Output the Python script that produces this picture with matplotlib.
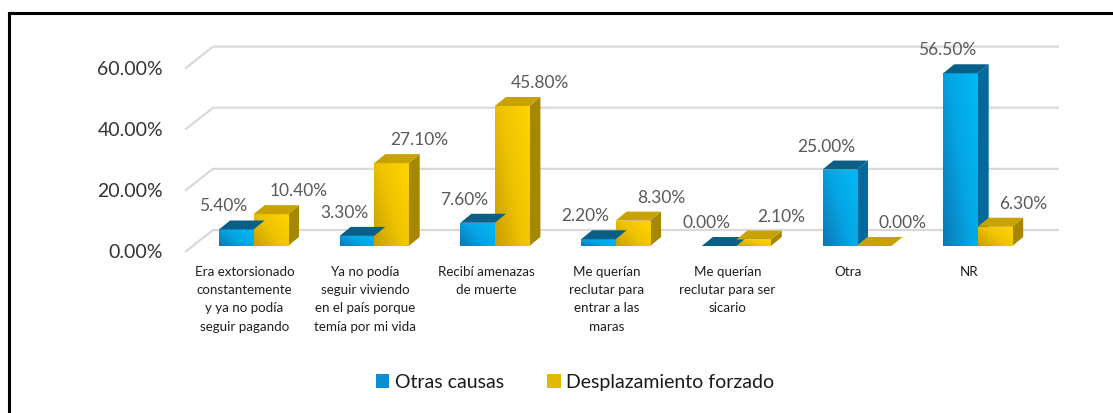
import matplotlib
matplotlib.use('Agg')
import matplotlib.pyplot as plt
import numpy as np
from matplotlib.patches import Polygon, Patch
from matplotlib.lines import Line2D
from matplotlib.colors import LinearSegmentedColormap

plt.rcParams['font.family'] = ['Lato', 'DejaVu Sans']

# data
categories = [
    'Era extorsionado\nconstantemente\ny ya no podía\nseguir pagando',
    'Ya no podía\nseguir viviendo\nen el país porque\ntemía por mi vida',
    'Recibí amenazas\nde muerte',
    'Me querían\nreclutar para\nentrar a las\nmaras',
    'Me querían\nreclutar para ser\nsicario',
    'Otra',
    'NR',
]
otras_causas = [5.4, 3.3, 7.6, 2.2, 0.0, 25.0, 56.5]
desplazamiento = [10.4, 27.1, 45.8, 8.3, 2.1, 0.0, 6.3]
series_names = ['Otras causas', 'Desplazamiento forzado']
yticks = [0, 20, 40, 60]

# pixel scale of the original picture
PX_CAT = 120.7      # px per category
PX_PCT = 3.057      # px per percent
X0_PX, Y0_PX = 253.5, 247   # front centre of first group, bar baseline

W, H = 1113, 414
fig = plt.figure(figsize=(W / 100, H / 100), dpi=100)

left_px, right_px, top_px, bot_px = 150, 1100, 20, 262
ax = fig.add_axes([left_px / W, 1 - bot_px / H, (right_px - left_px) / W, (bot_px - top_px) / H])
ax.set_axis_off()

def dx(px):
    return px / PX_CAT

def dy(px):
    return px / PX_PCT

bw = dx(34.5)          # bar width
ddx, ddy = dx(11), dy(9)  # bar depth
x = np.arange(len(categories))

# walls / gridlines
for v in yticks:
    yb = v + dy(Y0_PX - 231)
    yf = v - dy(253 - Y0_PX)
    xl_f, xl_b, xr = dx(185 - X0_PX), dx(213 - X0_PX), dx(1059 - X0_PX)
    ax.plot([xl_f, xl_b, xr], [yf, yb, yb], color='#d9d9d9', lw=1.6, zorder=1,
            solid_capstyle='butt')
    ax.text(dx(163 - X0_PX), yf, f'{v:.2f}%', ha='right', va='center',
            fontsize=14, color='#333333')

blue_cm = LinearSegmentedColormap.from_list('b', ['#0b78b8', '#05a6e4', '#00b9f5'])
gold_cm = LinearSegmentedColormap.from_list('g', ['#c9a000', '#efc400', '#ffd400'])
styles = [
    dict(cmap=blue_cm, top='#0a5f88', side='#03689a', off=-bw, lab=dx(-13)),
    dict(cmap=gold_cm, top='#c8a200', side='#a58700', off=0.0, lab=dx(28)),
]
grad = np.add.outer(np.linspace(0, 0.6, 20), np.linspace(0, 0.4, 20)).T[::-1]

for i in x:
    for vals, st in zip([otras_causas, desplazamiento], styles):
        h = vals[i]
        x0 = i + st['off']
        x1 = x0 + bw
        z = 3 + i * 2
        side = Polygon([(x1, 0), (x1 + ddx, ddy), (x1 + ddx, h + ddy), (x1, h)],
                       closed=True, fc=st['side'], ec='none', zorder=z)
        ax.add_patch(side)
        if h > 0:
            front = ax.bar(x0, h, width=bw, align='edge', color=st['cmap'](0.6),
                           edgecolor='none', zorder=z + 0.5)[0]
            im = ax.imshow(grad, extent=[x0, x1, 0, h], cmap=st['cmap'],
                           aspect='auto', zorder=z + 0.6, interpolation='bilinear')
            im.set_clip_path(front)
        top = Polygon([(x0, h), (x1, h), (x1 + ddx, h + ddy), (x0 + ddx, h + ddy)],
                      closed=True, fc=st['top'], ec='none', zorder=z + 0.7)
        ax.add_patch(top)
        ax.text(x0 + bw / 2 + st['lab'], h + dy(24), f'{h:.2f}%', ha='center',
                va='center', fontsize=12.5, color='#595959', zorder=20)

for i, lab in enumerate(categories):
    ax.text(i - dx(9), -dy(19), lab, ha='center', va='top', fontsize=9.6,
            color='#1f1f1f', linespacing=1.62)

ax.set_xlim(dx(left_px - X0_PX), dx(right_px - X0_PX))
ax.set_ylim(-dy(bot_px - Y0_PX), dy(Y0_PX - top_px))

# legend
handles = [Patch(fc='#0a8fd0', ec='none'), Patch(fc='#e2b800', ec='none')]
fig.legend(handles, series_names, loc='center', bbox_to_anchor=(575 / W, 1 - 383 / H),
           ncol=2, frameon=False, fontsize=14, handlelength=0.7, handleheight=0.7,
           handletextpad=0.3, columnspacing=2.2, labelcolor='#1a1a1a')

# outer frame (top and left edges visible in the crop)
fig.add_artist(Line2D([9 / W, 9 / W], [0, 1 - 14 / H], color='black', lw=2.2))
fig.add_artist(Line2D([9 / W, 1], [1 - 14 / H, 1 - 14 / H], color='black', lw=2.2))

fig.savefig('out.png', dpi=100)
